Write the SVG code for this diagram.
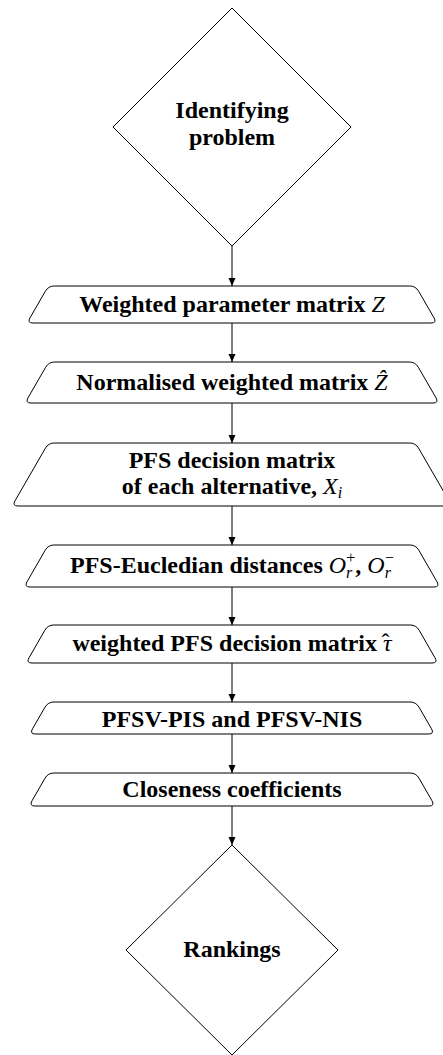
<svg xmlns="http://www.w3.org/2000/svg" width="443" height="1055" viewBox="0 0 443 1055">
<style>
.shape{fill:#fff;stroke:#000;stroke-width:1}
.lbl{font-family:"Liberation Serif","Times New Roman",serif;font-weight:bold;font-size:24px;fill:#000;text-anchor:middle}
.m{font-style:italic;font-weight:normal}
.s{font-size:16px}
.conn{stroke:#000;stroke-width:1;fill:none;marker-end:url(#ah)}
</style>
<defs>
<marker id="ah" markerUnits="userSpaceOnUse" markerWidth="9" markerHeight="8" refX="8" refY="3.5" orient="auto">
<path d="M0,0 L8,3.5 L0,7 Z" fill="#000"/>
</marker>
</defs>
<rect width="443" height="1055" fill="#fff"/>
<g id="connectors">
<line class="conn" x1="232" y1="246" x2="232" y2="286"/>
<line class="conn" x1="232" y1="323" x2="232" y2="362"/>
<line class="conn" x1="232" y1="403" x2="232" y2="443"/>
<line class="conn" x1="232" y1="506" x2="232" y2="545"/>
<line class="conn" x1="232" y1="587" x2="232" y2="625"/>
<line class="conn" x1="232" y1="663" x2="232" y2="702"/>
<line class="conn" x1="232" y1="734" x2="232" y2="773"/>
<line class="conn" x1="232" y1="806" x2="232" y2="845"/>
</g>
<g id="n_identify">
<path class="shape" d="M232,8 L351,127 L232,246 L113,127 Z"/>
<text class="lbl" x="232" y="118">Identifying</text>
<text class="lbl" x="232" y="145">problem</text>
</g>
<g id="n_weighted_param">
<path class="shape" d="M33,323 L431,323 Q437,323 434,317.8 L418.6,291.2 Q415.6,286 409.6,286 L54.4,286 Q48.4,286 45.4,291.2 L30,317.8 Q27,323 33,323 Z"/>
<text class="lbl" x="232" y="312">Weighted parameter matrix <tspan class="m">Z</tspan></text>
</g>
<g id="n_normalised">
<path class="shape" d="M31,403 L433,403 Q439,403 436,397.8 L418.3,367.2 Q415.3,362 409.3,362 L54.7,362 Q48.7,362 45.7,367.2 L28,397.8 Q25,403 31,403 Z"/>
<text class="lbl" x="232" y="390">Normalised weighted matrix <tspan class="m">Ẑ</tspan></text>
</g>
<g id="n_pfs_decision">
<path class="shape" d="M18,506 L446,506 Q452,506 449,500.8 L418.6,448.2 Q415.6,443 409.6,443 L54.4,443 Q48.4,443 45.4,448.2 L15,500.8 Q12,506 18,506 Z"/>
<text class="lbl" x="232" y="468">PFS decision matrix</text>
<text class="lbl" x="232" y="494">of each alternative, <tspan class="m">X</tspan><tspan class="m s" dy="4">i</tspan></text>
</g>
<g id="n_distances">
<path class="shape" d="M30,587 L434,587 Q440,587 437,581.8 L418.8,550.2 Q415.8,545 409.8,545 L54.2,545 Q48.2,545 45.2,550.2 L27,581.8 Q24,587 30,587 Z"/>
<text class="lbl" x="232" y="573">PFS-Eucledian distances <tspan class="m">O</tspan><tspan class="m s" dy="5">r</tspan><tspan font-weight="normal" class="s" dx="-6" dy="-15">+</tspan><tspan dy="10">, </tspan><tspan class="m">O</tspan><tspan class="m s" dy="5">r</tspan><tspan font-weight="normal" class="s" dx="-6" dy="-15">−</tspan></text>
</g>
<g id="n_weighted_pfs">
<path class="shape" d="M32,663 L432,663 Q438,663 435,657.8 L419.1,630.2 Q416.1,625 410.1,625 L53.9,625 Q47.9,625 44.9,630.2 L29,657.8 Q26,663 32,663 Z"/>
<text class="lbl" x="232" y="651">weighted PFS decision matrix <tspan class="m">τ</tspan><tspan font-weight="normal" dx="-10" dy="-1">ˆ</tspan></text>
</g>
<g id="n_pis_nis">
<path class="shape" d="M35.5,734 L428.5,734 Q434.5,734 431.5,728.8 L419,707.2 Q416,702 410,702 L54,702 Q48,702 45,707.2 L32.5,728.8 Q29.5,734 35.5,734 Z"/>
<text class="lbl" x="232" y="727">PFSV-PIS and PFSV-NIS</text>
</g>
<g id="n_closeness">
<path class="shape" d="M35,806 L429,806 Q435,806 432,800.8 L419,778.2 Q416,773 410,773 L54,773 Q48,773 45,778.2 L32,800.8 Q29,806 35,806 Z"/>
<text class="lbl" x="232" y="797">Closeness coefficients</text>
</g>
<g id="n_rankings">
<path class="shape" d="M232,845 L338,950 L232,1055 L126,950 Z"/>
<text class="lbl" x="232" y="957">Rankings</text>
</g>
</svg>
